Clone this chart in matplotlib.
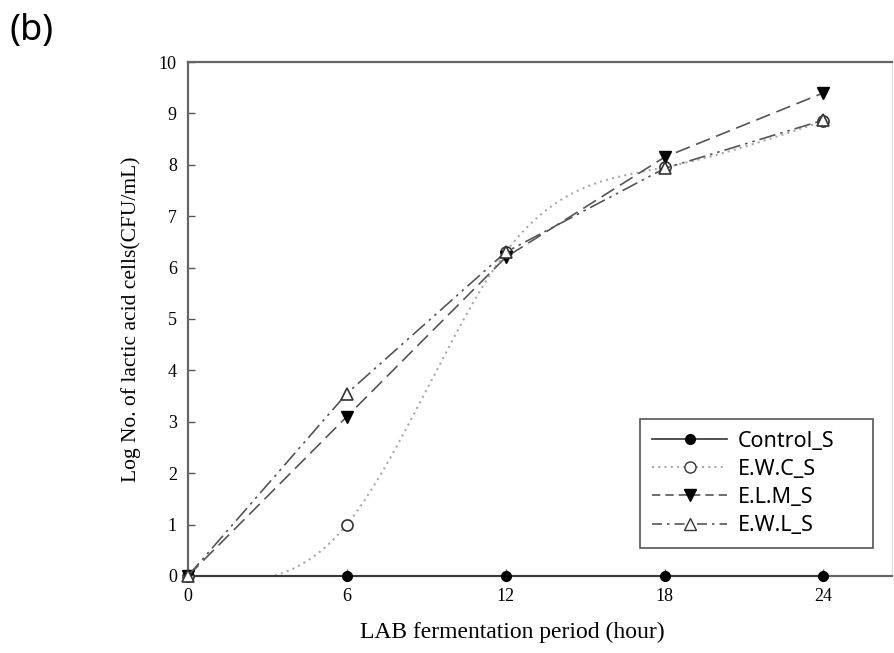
import numpy as np
import matplotlib
matplotlib.use("Agg")
import matplotlib.pyplot as plt
from matplotlib.lines import Line2D
from matplotlib.legend_handler import HandlerLine2D

# =========================
# DATA
# =========================
hours = [0, 6, 12, 18, 24]
control_s = [0, 0, 0, 0, 0]
ewc_s = [0, 1.0, 6.3, 7.95, 8.85]
elm_s = [0, 3.1, 6.2, 8.15, 9.4]
ewl_s = [0, 3.55, 6.3, 7.93, 8.87]
labels = ["Control_S", "E.W.C_S", "E.L.M_S", "E.W.L_S"]

line_col = "#555555"
serif = ["Liberation Serif", "DejaVu Serif"]


def natural_spline(x, y, n=300):
    # smooth curve through the points (natural cubic spline)
    x = np.asarray(x, float)
    y = np.asarray(y, float)
    k = len(x)
    h = np.diff(x)
    A = np.zeros((k, k))
    b = np.zeros(k)
    A[0, 0] = A[-1, -1] = 1
    for i in range(1, k - 1):
        A[i, i - 1] = h[i - 1]
        A[i, i] = 2 * (h[i - 1] + h[i])
        A[i, i + 1] = h[i]
        b[i] = 6 * ((y[i + 1] - y[i]) / h[i] - (y[i] - y[i - 1]) / h[i - 1])
    m = np.linalg.solve(A, b)
    xs = np.linspace(x[0], x[-1], n)
    idx = np.clip(np.searchsorted(x, xs) - 1, 0, k - 2)
    t0 = xs - x[idx]
    t1 = x[idx + 1] - xs
    hi = h[idx]
    ys = (m[idx] * t1 ** 3 / (6 * hi) + m[idx + 1] * t0 ** 3 / (6 * hi)
          + (y[idx] / hi - m[idx] * hi / 6) * t1
          + (y[idx + 1] / hi - m[idx + 1] * hi / 6) * t0)
    return xs, ys


class RightMarkerHandler(HandlerLine2D):
    # legend marker sits towards the right end of the sample line
    def get_xdata(self, legend, xdescent, ydescent, width, height, fontsize):
        xdata, _ = super().get_xdata(legend, xdescent, ydescent,
                                     width, height, fontsize)
        return xdata, np.array([-xdescent + 0.72 * width])


# =========================
# PLOT
# =========================
fig = plt.figure(figsize=(8.95, 6.53), dpi=100)
ax = fig.add_axes([0.210, 0.118, 0.787, 0.787])

# Control_S
ax.plot(hours, control_s, color="#333333", lw=1.2, marker="o", ms=7,
        mfc="black", mec="black", clip_on=False, zorder=3)

# E.W.C_S (smoothed dotted curve)
xs, ys = natural_spline(hours, ewc_s)
ax.plot(xs, ys, color="#aaaaaa", lw=1.5, ls=(0, (1, 2)), zorder=2)
ax.plot(hours, ewc_s, ls="none", marker="o", ms=8, mfc="white",
        mec="#333333", mew=1.2, clip_on=False, zorder=4)

# E.L.M_S
ax.plot(hours, elm_s, color=line_col, lw=1.2, ls=(0, (9, 4)),
        marker="v", ms=8, mfc="black", mec="black", clip_on=False, zorder=5)

# E.W.L_S
ax.plot(hours, ewl_s, color=line_col, lw=1.2, ls=(0, (10, 3, 1.5, 3, 1.5, 3)),
        marker="^", ms=8, mfc="white", mec="#333333", mew=1.2,
        clip_on=False, zorder=6)

ax.set_xlim(0, 26.6)
ax.set_ylim(0, 10)
ax.set_xticks(hours)
ax.set_yticks(range(0, 11))
ax.tick_params(direction="in", length=5, width=1, color=line_col,
               labelsize=13)
ax.tick_params(axis="x", pad=9)
ax.tick_params(axis="y", pad=8)
for lab in ax.get_xticklabels() + ax.get_yticklabels():
    lab.set_family(serif)

for side in ["left", "bottom", "top"]:
    ax.spines[side].set_color("#666666")
    ax.spines[side].set_linewidth(1.6)
ax.spines["right"].set_color("#dddddd")

ax.set_xlabel("LAB fermentation period (hour)", family=serif, fontsize=17,
              labelpad=5)
ax.xaxis.set_label_coords(0.46, -0.09)
ax.set_ylabel("Log No. of lactic acid cells(CFU/mL)", family=serif,
              fontsize=15.5, labelpad=13)

# legend with proxy handles
handles = [
    Line2D([], [], color="#333333", lw=1.2, marker="o", ms=7,
           mfc="black", mec="black"),
    Line2D([], [], color="#aaaaaa", lw=1.5, ls=(0, (1, 2)), marker="o",
           ms=8, mfc="white", mec="#333333"),
    Line2D([], [], color=line_col, lw=1.2, ls=(0, (5, 3)), marker="v",
           ms=8, mfc="black", mec="black"),
    Line2D([], [], color=line_col, lw=1.2, ls=(0, (6, 3, 1.5, 3)),
           marker="^", ms=8, mfc="white", mec="#333333"),
]
leg = ax.legend(handles, labels, loc="lower left",
                bbox_to_anchor=(0.642, 0.0545, 0.331, 0.3), mode="expand",
                borderaxespad=0, fancybox=False, framealpha=1,
                edgecolor="#555555", handlelength=3.5, handletextpad=0.5,
                labelspacing=0.33, borderpad=0.55,
                handler_map={Line2D: RightMarkerHandler()},
                prop={"family": "Noto Sans", "size": 15.5})
leg.get_frame().set_linewidth(1.2)

fig.text(0.011, 0.952, "(b)", family="Noto Sans", fontsize=26, va="center")

fig.savefig("out.png", dpi=100)
